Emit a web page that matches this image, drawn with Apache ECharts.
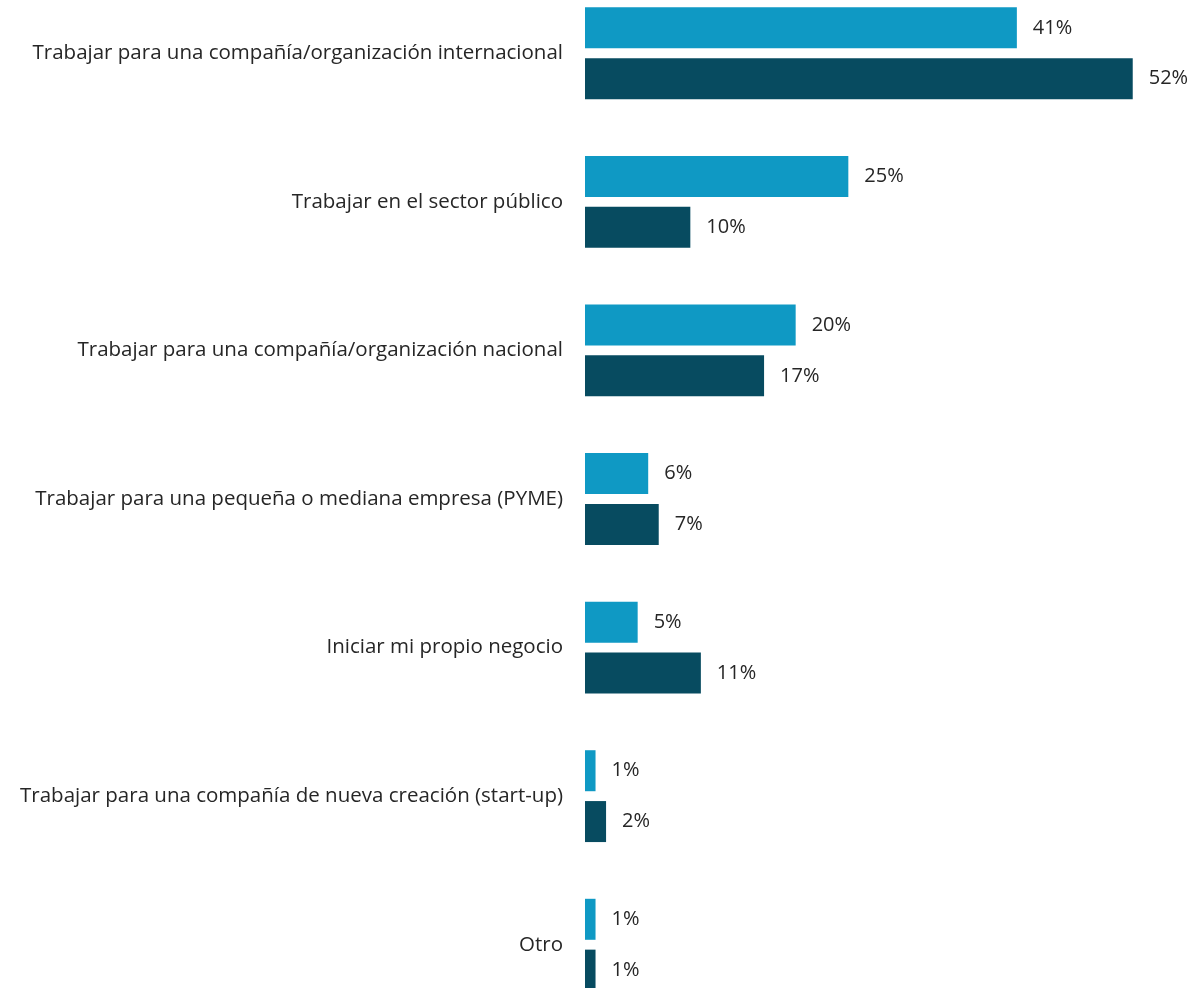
<!DOCTYPE html>
<html>
<head>
<meta charset="utf-8">
<script src="https://cdn.jsdelivr.net/npm/echarts@6/dist/echarts.min.js"></script>
<style>
  html, body { margin: 0; padding: 0; background: #fff; }
  #chart { width: 1195px; height: 988px; }
</style>
</head>
<body>
<div id="chart"></div>
<script>
// categorías (de arriba a abajo)
const categories = [
    'Trabajar para una compañía/organización internacional',
    'Trabajar en el sector público',
    'Trabajar para una compañía/organización nacional',
    'Trabajar para una pequeña o mediana empresa (PYME)',
    'Iniciar mi propio negocio',
    'Trabajar para una compañía de nueva creación (start-up)',
    'Otro'
];
const seriesA = [41, 25, 20, 6, 5, 1, 1];   // azul claro
const seriesB = [52, 10, 17, 7, 11, 2, 1];  // azul oscuro

const FONT = '"Open Sans", "Noto Sans", sans-serif';

const chart = echarts.init(document.getElementById('chart'));

const labelCfg = {
    show: true,
    position: 'right',
    distance: 16,
    formatter: '{c}%',
    color: '#262626',
    fontFamily: FONT,
    fontSize: 20
};

chart.setOption({
    backgroundColor: '#ffffff',
    animation: false,
    grid: {
        left: 585, top: -21, width: 632, height: 1040,
        containLabel: false,
        outerBoundsMode: 'none'
    },
    xAxis: {
        type: 'value',
        min: 0,
        max: 60,
        show: false
    },
    yAxis: {
        type: 'category',
        data: categories,
        inverse: true,
        axisLine: { show: false },
        axisTick: { show: false },
        splitLine: { show: false },
        axisLabel: {
            margin: 22,
            color: '#262626',
            fontFamily: FONT,
            fontSize: 20.5
        }
    },
    series: [
        {
            name: 'A',
            type: 'bar',
            data: seriesA,
            barWidth: 41,
            barGap: '24%',
            itemStyle: { color: '#0F99C4' },
            label: labelCfg
        },
        {
            name: 'B',
            type: 'bar',
            data: seriesB,
            barWidth: 41,
            barGap: '24%',
            itemStyle: { color: '#074B60' },
            label: labelCfg
        }
    ]
});
</script>
</body>
</html>
